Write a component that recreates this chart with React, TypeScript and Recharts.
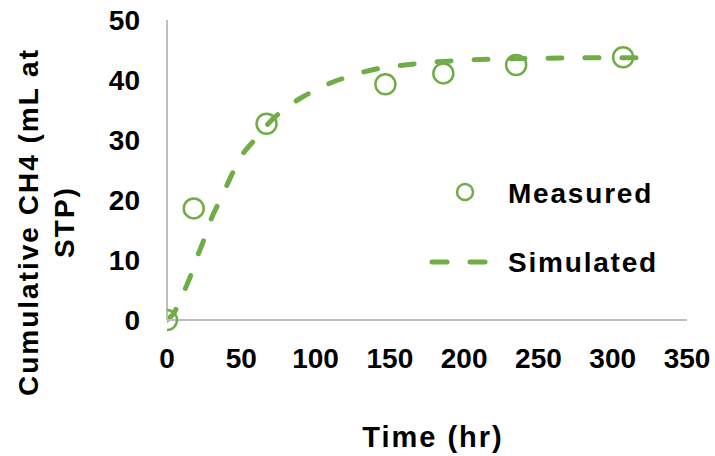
import {
  ComposedChart,
  Scatter,
  Line,
  XAxis,
  YAxis,
} from "recharts";

const measuredTime = [0, 18, 67, 147, 186, 235, 307];
const measuredCH4 = [0, 18.6, 32.7, 39.3, 41.1, 42.5, 43.8];

const simulatedTime = [0, 5, 10, 15, 20, 25, 30, 35, 40, 50, 60, 70, 80, 90, 100, 110, 120, 140, 160, 180, 200, 225, 250, 275, 300, 322];
const simulatedCH4 = [0, 1.3, 4, 6.8, 10.3, 13.5, 17, 19.6, 22.3, 27.3, 30.3, 33.2, 35.3, 37, 38.3, 39.5, 40.4, 41.8, 42.5, 43, 43.3, 43.5, 43.6, 43.7, 43.7, 43.7];

const xTicks = [0, 50, 100, 150, 200, 250, 300, 350];
const yTicks = [0, 10, 20, 30, 40, 50];

const GREEN = "#70AD47";
const AXIS = "#BFBFBF";
const FONT = "'Liberation Sans', Arial, sans-serif";

const measured = measuredTime.map((x, i) => ({ x, y: measuredCH4[i] }));
const simulated = simulatedTime.map((x, i) => ({ x, y: simulatedCH4[i] }));

const tickStyle = { fontSize: 28, fontWeight: 700, fill: "#000", fontFamily: FONT };

function HollowCircle(props: any) {
  const { cx, cy } = props;
  return <circle cx={cx} cy={cy} r={10} fill="none" stroke={GREEN} strokeWidth={2.5} />;
}

function YTitle() {
  const style = { fontSize: 28, fontWeight: 700, fontFamily: FONT, letterSpacing: 2 };
  return (
    <g>
      <text x={28} y={222} transform="rotate(-90 28 222)" textAnchor="middle" dominantBaseline="central" style={style}>
        Cumulative CH4 (mL at
      </text>
      <text x={64} y={222} transform="rotate(-90 64 222)" textAnchor="middle" dominantBaseline="central" style={style}>
        STP)
      </text>
    </g>
  );
}

function XTitle() {
  return (
    <text x={433} y={437} textAnchor="middle" dominantBaseline="central" style={{ fontSize: 29, fontWeight: 700, fontFamily: FONT, letterSpacing: 2 }}>
      Time (hr)
    </text>
  );
}

function LegendBox() {
  const text = { fontSize: 28, fontWeight: 700, fontFamily: FONT, letterSpacing: 1.8 };
  return (
    <svg width={260} height={110} style={{ position: "absolute", left: 420, top: 170 }}>
      <circle cx={45} cy={22} r={8} fill="none" stroke={GREEN} strokeWidth={2.5} />
      <text x={88} y={23} dominantBaseline="central" style={text}>Measured</text>
      <line x1={12} y1={92} x2={68} y2={92} stroke={GREEN} strokeWidth={5} strokeDasharray="15 23" strokeLinecap="round" />
      <text x={88} y={92} dominantBaseline="central" style={text}>Simulated</text>
    </svg>
  );
}

export default function App() {
  return (
    <div style={{ position: "absolute", left: 0, top: 0, width: 715, height: 456, background: "#fff" }}>
      <ComposedChart width={715} height={456} margin={{ top: 20, right: 28, left: 0, bottom: 0 }}>
        <XAxis
          type="number"
          dataKey="x"
          domain={[0, 350]}
          ticks={xTicks}
          tickLine={false}
          tickMargin={22}
          height={136}
          axisLine={{ stroke: AXIS, strokeWidth: 2 }}
          tick={tickStyle}
          label={{ content: () => <XTitle /> }}
          allowDataOverflow
        />
        <YAxis
          type="number"
          dataKey="y"
          domain={[0, 50]}
          ticks={yTicks}
          tickLine={false}
          tickMargin={21}
          width={167}
          axisLine={{ stroke: AXIS, strokeWidth: 2 }}
          tick={tickStyle}
          label={{ content: () => <YTitle /> }}
        />
        <Scatter name="Measured" data={measured} shape={HollowCircle} isAnimationActive={false} />
        <Line
          name="Simulated"
          data={simulated}
          dataKey="y"
          type="monotone"
          stroke={GREEN}
          strokeWidth={5}
          strokeDasharray="14 23"
          strokeLinecap="round"
          dot={false}
          activeDot={false}
          isAnimationActive={false}
        />
      </ComposedChart>
      <LegendBox />
    </div>
  );
}
